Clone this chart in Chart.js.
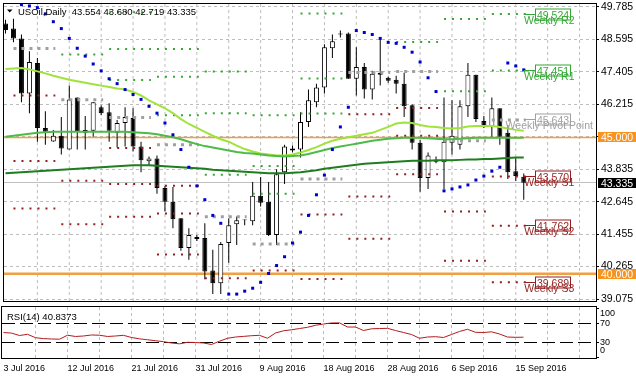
<!DOCTYPE html>
<html><head><meta charset="utf-8">
<script src="https://cdn.jsdelivr.net/npm/chart.js@4.4.1/dist/chart.umd.min.js"></script>
<style>
html,body{margin:0;padding:0;background:#fff;width:636px;height:379px;overflow:hidden}
#wrap{position:relative;width:636px;height:379px;background:#fff}
canvas{position:absolute;left:0}
#main{top:0;width:636px;height:305px}
#rsi{top:305px;width:636px;height:74px}
</style></head><body>
<div id="wrap"><canvas id="main" width="636" height="305"></canvas><canvas id="rsi" width="636" height="74"></canvas></div>
<script>
// ---------------- DATA ----------------
const xTickLabels = ['3 Jul 2016','12 Jul 2016','21 Jul 2016','31 Jul 2016','9 Aug 2016','18 Aug 2016','28 Aug 2016','6 Sep 2016','15 Sep 2016'];
const priceTicks = [39.075,40.265,41.455,42.645,43.835,45.025,46.215,47.405,48.595,49.785];
const rsiTicks = [0,30,70,100];
const rsiLevels = [30,70];
const roundLevels = [45.000, 40.000];
const lastPrice = 43.335;
const titleText = 'USOil,Daily  43.554 43.680 42.719 43.335';
const rsiTitle = 'RSI(14) 40.8373';

const openP = [49.182,48.991,48.631,46.611,47.729,45.349,44.855,45.061,44.556,46.467,45.169,45.241,46.106,45.926,45.169,45.529,45.710,44.664,44.123,44.231,43.149,42.645,42.032,40.950,41.274,41.310,40.120,39.651,41.130,41.815,41.959,41.923,42.861,42.645,41.418,43.727,44.592,44.556,45.565,46.287,46.828,48.270,48.811,48.811,47.152,47.585,46.755,47.368,47.188,47.116,46.972,46.178,44.808,43.510,44.123,44.087,44.808,44.736,46.142,47.296,45.601,45.385,46.070,45.169,43.763,43.554];
const highP = [49.316,49.352,48.775,48.162,47.909,45.962,45.277,45.746,46.900,46.467,45.782,46.287,46.178,46.250,45.637,46.106,46.070,44.844,44.303,44.339,43.221,43.185,42.032,41.671,41.418,41.851,40.878,41.166,42.032,42.104,41.995,43.366,43.546,43.366,43.835,44.736,44.700,45.926,46.755,46.972,48.414,48.775,48.919,48.847,48.306,47.729,47.441,48.631,47.224,47.260,47.368,46.215,44.916,44.448,44.303,46.467,46.359,46.359,47.729,47.296,45.782,46.467,46.070,45.457,44.267,43.680];
const lowP = [48.811,48.486,46.287,45.890,44.844,44.736,44.844,44.375,44.556,44.556,44.556,45.025,45.818,44.844,44.628,44.664,44.484,43.727,43.979,42.933,42.284,41.671,40.842,40.517,41.202,39.796,39.255,39.255,40.409,41.058,41.779,41.779,42.465,41.382,41.058,43.294,44.448,44.267,45.385,46.106,46.611,47.909,48.667,47.152,46.539,46.431,46.395,46.900,47.008,46.611,45.746,44.556,43.005,43.113,44.051,43.113,44.375,44.556,45.746,45.565,45.349,45.025,44.736,43.474,43.402,42.719];
const closeP = [48.944,48.631,46.611,47.765,45.349,45.205,45.061,44.592,46.395,45.205,45.277,46.287,45.890,45.241,45.529,45.746,44.664,44.159,44.231,43.149,42.645,41.996,40.950,41.418,41.346,40.084,39.651,41.094,41.779,41.959,41.995,42.861,42.609,41.418,43.654,44.664,44.520,45.565,46.359,46.828,48.306,48.523,48.775,47.152,47.585,46.755,47.332,47.296,47.080,46.972,46.142,44.808,43.510,44.339,44.087,44.844,45.061,46.142,47.296,45.674,45.421,46.070,45.025,43.727,43.582,43.335];

const maFast = [47.513,47.531,47.549,47.495,47.423,47.350,47.260,47.188,47.116,47.062,47.008,46.954,46.900,46.846,46.792,46.755,46.665,46.539,46.359,46.215,46.070,45.890,45.674,45.493,45.349,45.205,45.061,44.934,44.844,44.700,44.574,44.484,44.412,44.375,44.339,44.339,44.375,44.448,44.538,44.646,44.772,44.880,44.952,45.007,45.061,45.115,45.169,45.277,45.385,45.511,45.547,45.529,45.457,45.403,45.385,45.349,45.331,45.349,45.403,45.421,45.421,45.421,45.385,45.331,45.277,45.241];
const maMid = [45.025,45.061,45.097,45.133,45.169,45.187,45.205,45.205,45.205,45.205,45.205,45.205,45.205,45.205,45.205,45.205,45.187,45.169,45.151,45.115,45.061,45.007,44.934,44.844,44.754,44.682,44.628,44.574,44.520,44.466,44.430,44.412,44.375,44.339,44.321,44.303,44.321,44.339,44.394,44.466,44.538,44.610,44.664,44.718,44.772,44.826,44.880,44.916,44.952,44.970,44.988,44.988,44.988,44.970,44.952,44.934,44.934,44.952,44.970,44.988,44.988,44.988,44.988,44.988,44.988,44.988];
const maSlow = [43.690,43.708,43.727,43.745,43.763,43.781,43.799,43.817,43.835,43.853,43.871,43.889,43.907,43.925,43.943,43.961,43.979,43.979,43.979,43.961,43.943,43.925,43.907,43.889,43.871,43.853,43.817,43.799,43.781,43.763,43.745,43.727,43.708,43.690,43.690,43.690,43.708,43.727,43.763,43.799,43.853,43.889,43.925,43.961,43.997,44.033,44.051,44.069,44.087,44.105,44.123,44.141,44.141,44.141,44.159,44.159,44.159,44.177,44.195,44.195,44.213,44.213,44.231,44.249,44.267,44.267];

const sarP = [null,null,49.868,49.821,49.759,49.532,49.244,48.991,48.631,48.270,47.982,47.693,47.441,47.152,46.972,46.755,46.575,46.395,46.142,45.890,45.529,45.097,44.556,43.907,43.221,42.717,42.140,41.851,39.255,39.255,39.363,39.471,39.687,40.012,40.301,40.625,41.130,41.527,42.140,42.897,43.618,44.556,45.385,46.106,48.919,48.847,48.775,48.631,48.486,48.450,48.306,48.126,47.765,47.188,46.683,43.041,43.113,43.185,43.258,43.438,43.582,43.763,43.907,47.729,47.621,47.477];

const rsiV = [50.5,49.3,44.3,46.8,39.8,37.9,37.1,36.7,44.9,42.3,43.3,45.4,44.9,42.3,43.3,44.7,40.2,37.5,35.5,33.6,31.6,28.9,27.2,30.3,29.9,28.9,25.8,32.6,38.6,41.2,42.5,43.9,44.7,38.6,49.5,54.0,56.1,58.7,61.2,65.3,68.0,70.1,70.3,61.8,61.8,54.6,58.1,58.7,59.1,54.6,50.5,46.4,38.6,41.2,41.9,40.2,46.4,52.6,57.1,50.9,50.5,51.9,47.4,41.2,40.6,40.84];

// weekly pivot levels, one value per week (Mon..Sun), null = off chart
const r3W = [null,null,49.594,48.245,47.415,45.818,49.543,null,null,null,null];
const r2W = [null,null,48.245,47.224,45.890,43.954,47.163,null,null,49.341,49.524];
const r1W = [null,48.043,47.105,45.818,43.629,42.933,45.879,null,48.497,46.694,47.451];
const ppW = [48.259,46.384,45.735,44.736,42.093,41.094,43.474,47.379,47.415,44.880,45.643];
const s1W = [46.539,43.412,44.617,43.232,39.832,40.120,42.176,45.854,46.081,42.284,43.570];
const s2W = [44.134,41.815,43.294,42.212,null,null,39.806,42.836,45.061,40.481,41.762];
const s3W = [42.392,null,42.093,40.708,null,null,null,41.285,43.654,null,39.689];

// ---------------- STYLE ----------------
const FONT = "'Liberation Sans', Arial, sans-serif";
Chart.defaults.font.family = FONT;
const C_LIME='#9FE33B', C_MID='#4CBB47', C_DARK='#1E7D1E';
const C_R='#34A834', C_S='#951E1E', C_P='#A0A0A0';
const C_SAR='#0000CC', C_RSI='#B31B1B', C_ORANGE='#F0A040', C_BOX='#F7931E';

const N = openP.length;
const I = Array.from({length:N},(_,i)=>i);
const X_MIN = -0.1875, X_MAX = 74.0625;
const gridIdx = []; for (let v=4; v<=72; v+=4) gridIdx.push(v);
const Y_MAX = 49.893, Y_MIN = 39.002;

function weekSeg(levels){
  const d=[];
  levels.forEach((v,k)=>{
    if(v==null) return;
    const a=1+6*k, b=Math.min(6+6*k, N-1);
    d.push({x:a,y:v},{x:b+0.25,y:v},{x:b+0.5,y:null});
  });
  return d;
}
function pivDs(levels,color,w,dash){
  return {type:'line', data:weekSeg(levels), borderColor:color, borderWidth:w, borderDash:dash,
    pointRadius:0, spanGaps:false, tension:0, order:10};
}
function maDs(arr,color){
  return {type:'line', data:I.map(i=>({x:i,y:arr[i]})), borderColor:color, borderWidth:2, pointRadius:0, tension:0, order:5};
}
function vGrid(chart){
  const {ctx, chartArea:a, scales:{x}} = chart;
  ctx.save(); ctx.strokeStyle='#bdbdbd'; ctx.lineWidth=1; ctx.setLineDash([3,3]);
  gridIdx.forEach(v=>{ const px=x.getPixelForValue(v); ctx.beginPath(); ctx.moveTo(px,a.top); ctx.lineTo(px,a.bottom); ctx.stroke(); });
  ctx.restore();
}
function frame(chart){
  const {ctx, chartArea:a} = chart;
  ctx.save(); ctx.strokeStyle='#000'; ctx.lineWidth=1; ctx.setLineDash([]);
  ctx.strokeRect(a.left-0.5, a.top-0.5, a.right-a.left+1, a.bottom-a.top+1);
  ctx.restore();
}
const crisp = v => Math.round(v-0.5)+0.5;

const mainPlugin = {
  id:'mainDecor',
  beforeDatasetsDraw(chart){
    const {ctx, chartArea:a, scales:{y}} = chart;
    vGrid(chart);
    ctx.save();
    ctx.strokeStyle='#bdbdbd'; ctx.lineWidth=1; ctx.setLineDash([3,3]);
    priceTicks.forEach(v=>{ const py=crisp(y.getPixelForValue(v)); ctx.beginPath(); ctx.moveTo(a.left,py); ctx.lineTo(a.right,py); ctx.stroke(); });
    ctx.setLineDash([]);
    ctx.strokeStyle='#c0c0c0';
    let py=crisp(y.getPixelForValue(lastPrice)); ctx.beginPath(); ctx.moveTo(a.left,py); ctx.lineTo(a.right,py); ctx.stroke();
    ctx.strokeStyle=C_ORANGE;
    roundLevels.forEach((v,k)=>{ ctx.lineWidth = k===0?1.5:2.5; const p=y.getPixelForValue(v); ctx.beginPath(); ctx.moveTo(a.left,p); ctx.lineTo(a.right,p); ctx.stroke(); });
    ctx.restore();
  },
  afterDatasetsDraw(chart){
    const {ctx, scales:{x,y}} = chart;
    ctx.save();
    const last = N-1;
    const labels = [
      {v:r2W[10], t:'Weekly R2', c:C_R},
      {v:r1W[10], t:'Weekly R1', c:C_R},
      {v:ppW[10], t:'Weekly Pivot Point', c:C_P},
      {v:s1W[10], t:'Weekly S1', c:C_S},
      {v:s2W[10], t:'Weekly S2', c:C_S},
      {v:s3W[10], t:'Weekly S3', c:C_S}
    ];
    const x0 = x.getPixelForValue(last), bx = Math.round(x.getPixelForValue(last+1.35))+0.5, tx = x.getPixelForValue(last+3.2);
    labels.forEach(L=>{
      const py = crisp(y.getPixelForValue(L.v));
      ctx.strokeStyle=L.c; ctx.lineWidth=1;
      ctx.beginPath(); ctx.moveTo(x0,py); ctx.lineTo(bx,py); ctx.stroke();
      ctx.fillStyle='#fff'; ctx.fillRect(bx,py-5.5,35,11); ctx.strokeRect(bx,py-5.5,35,11);
      ctx.fillStyle=L.c; ctx.font='10.5px '+FONT; ctx.textAlign='center'; ctx.textBaseline='alphabetic';
      ctx.fillText(L.v.toFixed(3), bx+17.5, py+4.5);
      ctx.fillText(L.t, tx, py+9.5);
    });
    // title
    ctx.fillStyle='#000';
    ctx.beginPath(); ctx.moveTo(7,9.5); ctx.lineTo(12.5,9.5); ctx.lineTo(9.75,12.5); ctx.closePath(); ctx.fill();
    ctx.font='9.5px '+FONT; ctx.textAlign='left'; ctx.textBaseline='alphabetic';
    ctx.fillText(titleText, 18, 14.5);
    ctx.restore();
  },
  afterDraw(chart){
    const {ctx, scales:{y}} = chart;
    frame(chart);
    ctx.save();
    ctx.font='10.5px '+FONT; ctx.textAlign='left'; ctx.textBaseline='alphabetic';
    const box=(v,bg)=>{ const p=Math.round(y.getPixelForValue(v)); ctx.fillStyle=bg; ctx.fillRect(598,p-5,38,10); ctx.fillStyle='#fff'; ctx.fillText(v.toFixed(3),601,p+4); };
    roundLevels.forEach(v=>box(v,C_BOX));
    box(lastPrice,'#000');
    ctx.restore();
  }
};

new Chart(document.getElementById('main'), {
  type:'bar',
  data:{datasets:[
    {type:'bar', data:I.map(i=>({x:i,y:[lowP[i],highP[i]]})), backgroundColor:'#000', borderWidth:0, barThickness:1, grouped:false, inflateAmount:0, order:21},
    {type:'bar', data:I.map(i=>({x:i,y:[openP[i],closeP[i]]})), backgroundColor:I.map(i=>closeP[i]>=openP[i]?'#fff':'#000'), borderColor:'#000', borderWidth:1, borderSkipped:false, barThickness:5, grouped:false, inflateAmount:0, order:20},
    pivDs(r3W,C_R,2,[2,6]), pivDs(r2W,C_R,2,[2,6]), pivDs(r1W,C_R,2,[2,6]),
    pivDs(ppW,C_P,3,[3,5]),
    pivDs(s1W,C_S,2,[2,6]), pivDs(s2W,C_S,2,[2,6]), pivDs(s3W,C_S,2,[2,6]),
    maDs(maSlow,C_DARK), maDs(maMid,C_MID), maDs(maFast,C_LIME),
    {type:'line', data:I.map(i=>({x:i,y:sarP[i]})), showLine:false, pointStyle:'rect', pointRadius:2.12, pointBackgroundColor:C_SAR, pointBorderWidth:0, order:1}
  ]},
  options:{
    responsive:false, animation:false, devicePixelRatio:1, events:[],
    layout:{padding:{left:2,top:2,right:0,bottom:1}},
    plugins:{legend:{display:false}, tooltip:{enabled:false}},
    scales:{
      x:{type:'linear', display:false, min:X_MIN, max:X_MAX, offset:false,
         afterFit:s=>{s.height=0;s.paddingLeft=0;s.paddingRight=0;}},
      y:{type:'linear', position:'right', min:Y_MIN, max:Y_MAX,
         afterBuildTicks:s=>{s.ticks=priceTicks.map(v=>({value:v}));},
         ticks:{callback:v=>Number(v).toFixed(3), color:'#000', font:{size:10.5,family:FONT}, padding:2, autoSkip:false},
         grid:{drawOnChartArea:false, drawTicks:true, tickLength:3, tickColor:'#000'},
         border:{display:true,color:'#000',width:1},
         afterFit:s=>{s.width=40;s.paddingTop=0;s.paddingBottom=0;}}
    }
  },
  plugins:[mainPlugin]
});

const rsiPlugin = {
  id:'rsiDecor',
  beforeDatasetsDraw(chart){
    const {ctx, chartArea:a, scales:{y}} = chart;
    vGrid(chart);
    ctx.save(); ctx.strokeStyle='#000'; ctx.lineWidth=1; ctx.setLineDash([13,5]);
    rsiLevels.forEach(v=>{ const py=crisp(y.getPixelForValue(v)); ctx.beginPath(); ctx.moveTo(a.left,py); ctx.lineTo(a.right,py); ctx.stroke(); });
    ctx.restore();
  },
  afterDraw(chart){
    const {ctx, chartArea:a, scales:{y}} = chart;
    frame(chart);
    ctx.save(); ctx.fillStyle='#000';
    ctx.font='9.5px '+FONT; ctx.textAlign='left'; ctx.textBaseline='alphabetic';
    ctx.fillText(rsiTitle, 7, 15);
    ctx.font='9px '+FONT; ctx.textBaseline='middle';
    rsiTicks.forEach(v=>{
      let py=y.getPixelForValue(v);
      py=Math.max(a.top+7, Math.min(a.bottom-7, py));
      ctx.fillText(String(v), 600, py);
    });
    ctx.restore();
  }
};

new Chart(document.getElementById('rsi'), {
  type:'line',
  data:{datasets:[{data:I.map(i=>({x:i,y:rsiV[i]})), borderColor:C_RSI, borderWidth:1, pointRadius:0, tension:0}]},
  options:{
    responsive:false, animation:false, devicePixelRatio:1, events:[],
    layout:{padding:{left:2,top:2,right:0,bottom:0}},
    plugins:{legend:{display:false}, tooltip:{enabled:false}},
    scales:{
      x:{type:'linear', min:X_MIN, max:X_MAX, offset:false,
         afterBuildTicks:s=>{s.ticks=gridIdx.concat([0]).sort((p,q)=>p-q).map(v=>({value:v}));},
         ticks:{callback:v=>(v%8===0 && v/8<xTickLabels.length)?xTickLabels[v/8]:'', align:'start', autoSkip:false, maxRotation:0, minRotation:0, padding:5, color:'#000', font:{size:9,family:FONT}},
         grid:{display:false, drawTicks:false}, border:{display:false},
         afterFit:s=>{s.height=21;s.paddingLeft=0;s.paddingRight=0;}},
      y:{type:'linear', position:'right', min:-2, max:103,
         afterBuildTicks:s=>{s.ticks=rsiTicks.map(v=>({value:v}));},
         ticks:{display:false},
         grid:{drawOnChartArea:false, drawTicks:true, tickLength:3, tickColor:'#000'},
         border:{display:true,color:'#000',width:1},
         afterFit:s=>{s.width=40;s.paddingTop=0;s.paddingBottom=0;}}
    }
  },
  plugins:[rsiPlugin]
});
</script>
</body></html>
